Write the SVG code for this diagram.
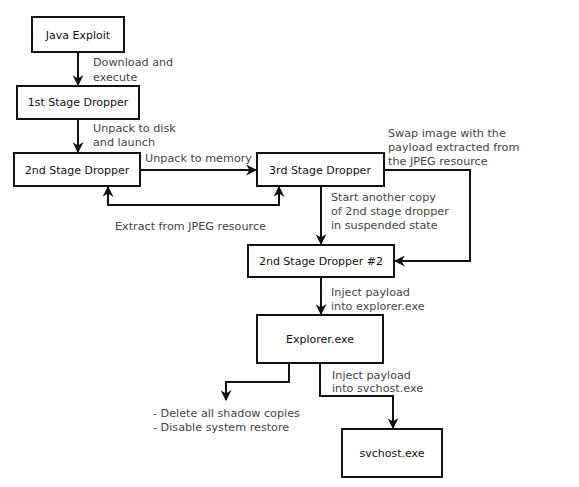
<svg xmlns="http://www.w3.org/2000/svg" width="579" height="487" viewBox="0 0 579 487">
<style>
.box{fill:#fff;stroke:#111;stroke-width:2}
.nt{font-family:"DejaVu Sans",sans-serif;font-size:11px;fill:#111;text-anchor:middle;dominant-baseline:central}
.lb{font-family:"DejaVu Sans",sans-serif;font-size:11.2px;fill:#444}
.ln{fill:none;stroke:#111;stroke-width:2}
</style>
<defs>
<marker id="ah" viewBox="0 0 10 10" refX="9" refY="5" markerWidth="5.5" markerHeight="5.5" orient="auto-start-reverse" markerUnits="strokeWidth">
<path d="M0,0 L10,5 L0,10 L3,5 z" fill="#111"/>
</marker>
</defs>
<rect width="579" height="487" fill="#fff"/>
<g id="connectors">
<path class="ln" d="M78,52 V85" marker-end="url(#ah)"/>
<path class="ln" d="M78,119 V152" marker-end="url(#ah)"/>
<path class="ln" d="M140,170 H256" marker-end="url(#ah)"/>
<path class="ln" d="M108,187 V205 H279 V187" marker-start="url(#ah)" marker-end="url(#ah)"/>
<path class="ln" d="M384,170 H470 V261 H395" marker-end="url(#ah)"/>
<path class="ln" d="M321,186 V244" marker-end="url(#ah)"/>
<path class="ln" d="M321,277 V314" marker-end="url(#ah)"/>
<path class="ln" d="M289,363 V382 H226 V400" marker-end="url(#ah)"/>
<path class="ln" d="M320,363 V396 H393 V428" marker-end="url(#ah)"/>
<text class="lb" x="93" y="66">Download and</text>
<text class="lb" x="93" y="81">execute</text>
<text class="lb" x="93" y="132">Unpack to disk</text>
<text class="lb" x="93" y="146">and launch</text>
<text class="lb" x="145" y="162">Unpack to memory</text>
<text class="lb" x="115" y="230">Extract from JPEG resource</text>
<text class="lb" x="388" y="137">Swap image with the</text>
<text class="lb" x="388" y="151">payload extracted from</text>
<text class="lb" x="388" y="165">the JPEG resource</text>
<text class="lb" x="331" y="201">Start another copy</text>
<text class="lb" x="331" y="215">of 2nd stage dropper</text>
<text class="lb" x="331" y="229">in suspended state</text>
<text class="lb" x="331" y="296">Inject payload</text>
<text class="lb" x="331" y="310">into explorer.exe</text>
<text class="lb" x="332" y="379">Inject payload</text>
<text class="lb" x="332" y="392">into svchost.exe</text>
<text class="lb" x="153" y="417">- Delete all shadow copies</text>
<text class="lb" x="153" y="431">- Disable system restore</text>
</g>
<g id="java"><rect class="box" x="32" y="17" width="92" height="35"/><text class="nt" x="78" y="35">Java Exploit</text></g>
<g id="stage1"><rect class="box" x="17" y="86" width="122" height="33"/><text class="nt" x="78" y="102">1st Stage Dropper</text></g>
<g id="stage2"><rect class="box" x="14" y="153" width="126" height="33"/><text class="nt" x="77" y="170">2nd Stage Dropper</text></g>
<g id="stage3"><rect class="box" x="257" y="153" width="127" height="33"/><text class="nt" x="320" y="170">3rd Stage Dropper</text></g>
<g id="stage2b"><rect class="box" x="248" y="245" width="146" height="32"/><text class="nt" x="321" y="261">2nd Stage Dropper #2</text></g>
<g id="explorer"><rect class="box" x="257" y="315" width="126" height="48"/><text class="nt" x="320" y="339">Explorer.exe</text></g>
<g id="svchost"><rect class="box" x="342" y="429" width="100" height="48"/><text class="nt" x="392" y="453">svchost.exe</text></g>
</svg>
